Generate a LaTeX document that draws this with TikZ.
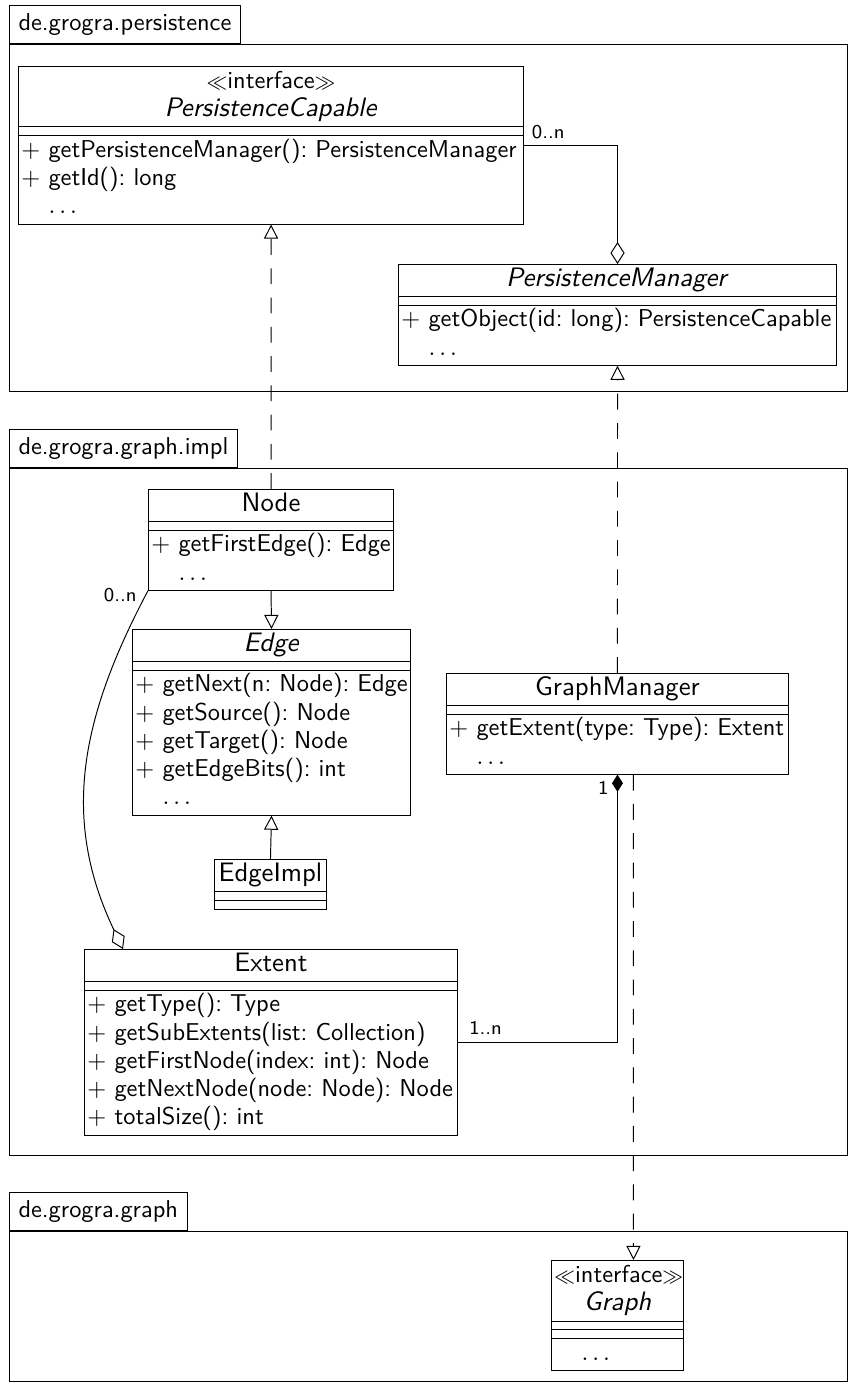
\documentclass[tikz,border=0pt]{standalone}
\usepackage{amsmath}
\usepackage{tikz}
\usetikzlibrary{shapes.multipart,arrows.meta,calc}
\renewcommand{\familydefault}{\sfdefault}

\newcommand{\umlhead}[1]{\centering\fontsize{10.95}{11.7}\selectfont\strut#1\strut\par}
\newcommand{\umlangle}[1]{{\fontsize{8.2}{8}\selectfont$#1$}}
\newcommand{\umlstereo}[1]{{\fontsize{10}{11.7}\selectfont\umlangle{\ll}#1\umlangle{\gg}}}
\newcommand{\umlop}[1]{\strut\mbox{$+$ #1}}
\newcommand{\umlmore}{\strut\hphantom{$+$} $\ldots$}
\newcommand{\umlnone}{\rule{0pt}{2.2pt}}

\tikzset{
  umlclass/.style={rectangle split, rectangle split parts=3, draw, anchor=north west,
    inner xsep=1.2pt, inner ysep=0.5pt, font=\fontsize{10}{11.6}\selectfont\frenchspacing},
  pkgtab/.style={draw, anchor=south west, minimum height=15.6pt, inner xsep=3.7pt,
    font=\fontsize{10}{12}\selectfont},
  mult/.style={font=\footnotesize, inner sep=1.5pt},
  realize/.style={dash pattern=on 6.5pt off 5.5pt, -{Triangle[open, length=5.8pt, width=5.8pt]}},
  inherit/.style={-{Triangle[open, length=5.8pt, width=5.8pt]}},
  aggregate/.style={-{Diamond[open, length=9pt, width=5.8pt]}},
  compose/.style={-{Diamond[length=7pt, width=4.5pt]}}
}

\begin{document}
\begin{tikzpicture}[x=0.41pt, y=-0.41pt]
\useasboundingbox (0,0) rectangle (850,1385);

% packages
\node[pkgtab] (perstab) at (9,44) {de.grogra.persistence};
\draw (perstab.south west) rectangle (847,391);
\node[pkgtab] (impltab) at (9,468) {de.grogra.graph.impl};
\draw (impltab.south west) rectangle (847,1155);
\node[pkgtab] (graphtab) at (9,1231) {de.grogra.graph};
\draw (graphtab.south west) rectangle (847,1381);

% de.grogra.persistence
\node[umlclass, text width=204.7pt] (pc) at (18,66)
  {\umlhead{\umlstereo{interface}\\\textit{PersistenceCapable}}
   \nodepart{second}\umlnone
   \nodepart{third}\umlop{getPersistenceManager(): PersistenceManager}\\\umlop{getId(): long}\\\umlmore};
\node[umlclass, text width=177.2pt] (pm) at (398,264)
  {\umlhead{\textit{PersistenceManager}}
   \nodepart{second}\umlnone
   \nodepart{third}\umlop{getObject(id: long): PersistenceCapable}\\\umlmore};

% de.grogra.graph.impl
\node[umlclass, text width=98.1pt] (node) at (148,489)
  {\umlhead{Node}
   \nodepart{second}\umlnone
   \nodepart{third}\umlop{getFirstEdge(): Edge}\\\umlmore};
\node[umlclass, text width=111.6pt] (edge) at (132,629)
  {\umlhead{\textit{Edge}}
   \nodepart{second}\umlnone
   \nodepart{third}\umlop{getNext(n: Node): Edge}\\\umlop{getSource(): Node}\\\umlop{getTarget(): Node}\\\umlop{getEdgeBits(): int}\\\umlmore};
\node[umlclass, text width=43.5pt] (edgeimpl) at (214,859)
  {\umlhead{EdgeImpl}
   \nodepart{second}\umlnone
   \nodepart{third}\umlnone};
\node[umlclass, text width=150.5pt] (extent) at (84,949)
  {\umlhead{Extent}
   \nodepart{second}\umlnone
   \nodepart{third}\umlop{getType(): Type}\\\umlop{getSubExtents(list: Collection)}\\\umlop{getFirstNode(index: int): Node}\\\umlop{getNextNode(node: Node): Node}\\\umlop{totalSize(): int}};
\node[umlclass, text width=137.8pt] (gm) at (446,673)
  {\umlhead{GraphManager}
   \nodepart{second}\umlnone
   \nodepart{third}\umlop{getExtent(type: Type): Extent}\\\umlmore};

% de.grogra.graph
\node[umlclass, rectangle split parts=4, text width=51.7pt] (graph) at (551,1260)
  {\umlhead{\umlstereo{interface}\\\textit{Graph}}
   \nodepart{second}\umlnone
   \nodepart{third}\umlnone
   \nodepart{fourth}\umlmore};

% relations
\draw[realize] (node.north) -- (pc.south);
\draw[realize] (gm.north) -- (pm.south);
\draw[realize] ($(gm.south)+(16,0)$) -- ($(graph.north)+(16,0)$);
\draw[inherit] (node.south) -- (edge.north);
\draw[inherit] (edgeimpl.north) -- (edge.south);
\draw[aggregate] (pc.east) node[mult, anchor=south west, xshift=1.5pt, yshift=1pt] {0..n} -| (pm.north);
\draw[aggregate] (node.south west) node[mult, anchor=east, xshift=-3pt, yshift=-1.6pt] {0..n}
  .. controls (80,719) and (61,819) .. ($(extent.north west)+(39,0)$);
\draw[compose] (extent.east) node[mult, anchor=south west, xshift=3pt, yshift=1.5pt] {1..n}
  -| (gm.south) node[mult, anchor=north east, xshift=-2pt, yshift=-1pt] {1};
\end{tikzpicture}
\end{document}
